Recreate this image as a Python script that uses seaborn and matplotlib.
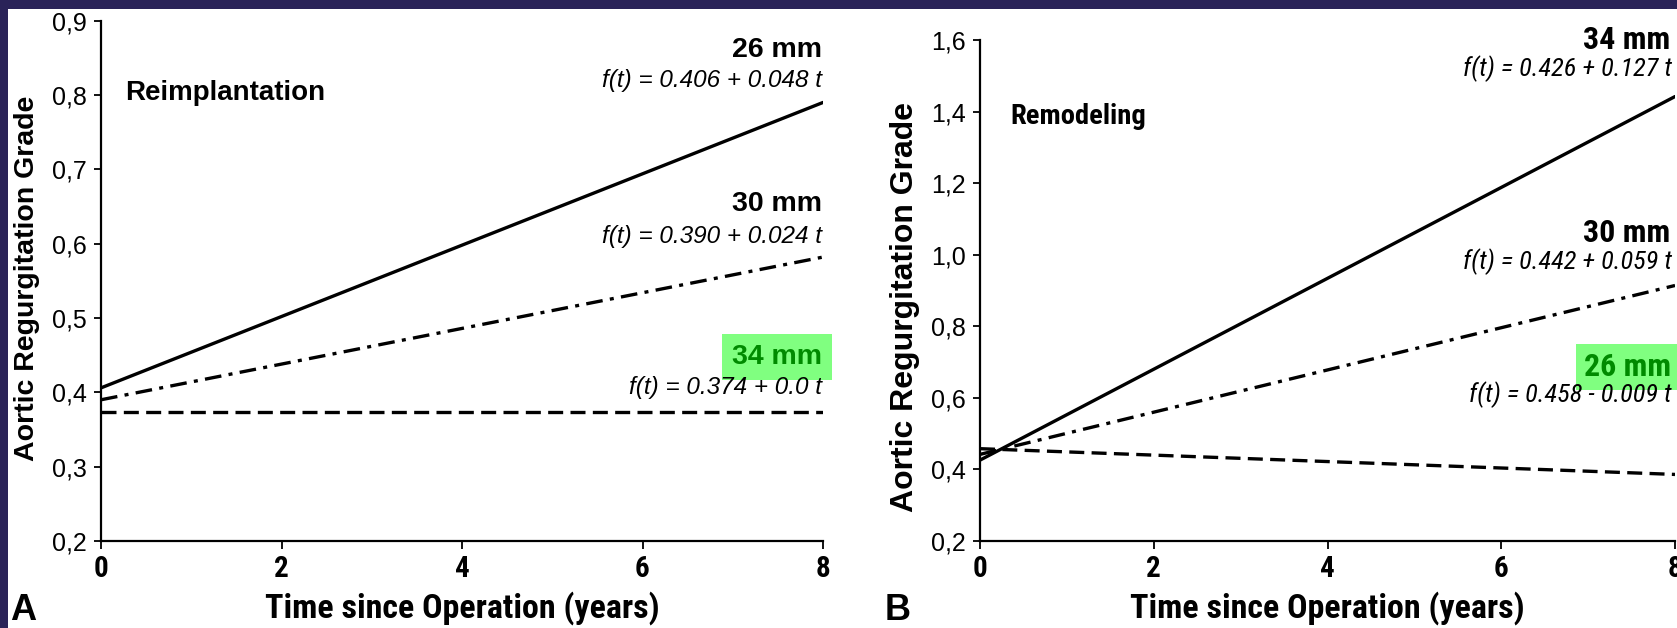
import matplotlib
matplotlib.use("Agg")
import matplotlib.pyplot as plt
from matplotlib import font_manager
import numpy as np
import pandas as pd
import seaborn as sns

# ---- data -------------------------------------------------------------
years = [0, 8]

reimpl_sizes = ["26 mm", "30 mm", "34 mm"]
reimpl_intercepts = [0.406, 0.390, 0.374]
reimpl_slopes = [0.048, 0.024, 0.0]
reimpl_formulas = ["f(t) = 0.406 + 0.048 t",
                   "f(t) = 0.390 + 0.024 t",
                   "f(t) = 0.374 + 0.0 t"]

remod_sizes = ["34 mm", "30 mm", "26 mm"]
remod_intercepts = [0.426, 0.442, 0.458]
remod_slopes = [0.127, 0.059, -0.009]
remod_formulas = ["f(t) = 0.426 + 0.127 t",
                  "f(t) = 0.442 + 0.059 t",
                  "f(t) = 0.458 - 0.009 t"]

reimpl_yticks = [0.2, 0.3, 0.4, 0.5, 0.6, 0.7, 0.8, 0.9]
remod_yticks = [0.2, 0.4, 0.6, 0.8, 1.0, 1.2, 1.4, 1.6]
xticks = [0, 2, 4, 6, 8]

# ---- style ------------------------------------------------------------
sns.set_theme(style="white")
installed = {f.name for f in font_manager.fontManager.ttflist}
REG = "Liberation Sans"
NARROW = next((n for n in ["Liberation Sans Narrow", "Arial Narrow", "Roboto Condensed"]
               if n in installed), REG)
plt.rcParams["font.family"] = [REG, "DejaVu Sans"]
plt.rcParams["text.color"] = "black"
plt.rcParams["axes.labelcolor"] = "black"
plt.rcParams["xtick.color"] = "black"
plt.rcParams["ytick.color"] = "black"

NAVY = "#2a2358"
HILITE = "#80ff80"
HILITE_TXT = "#008a00"

# line style per ring size: solid / dash-dot / dashed
size_dashes = {"26 mm": "", "30 mm": (5, 2.2, 1.2, 2.2), "34 mm": (4.5, 2.2)}
remod_dashes = {"34 mm": "", "30 mm": (5, 2.2, 1.2, 2.2), "26 mm": (4.5, 2.2)}


def fit_frame(sizes, a, b):
    rows = []
    for s, ai, bi in zip(sizes, a, b):
        for t in years:
            rows.append({"size": s, "t": t, "grade": ai + bi * t})
    return pd.DataFrame(rows)


W, H = 1677, 628
fig = plt.figure(figsize=(W / 100, H / 100), dpi=100, facecolor=NAVY)
# white page inside the navy frame
fig.patches.append(plt.Rectangle((8 / W, 0), 1, 1 - 9 / H, transform=fig.transFigure,
                                 facecolor="white", edgecolor="none", zorder=-10))

ax1 = fig.add_axes([101 / W, 1 - 541 / H, 722 / W, 520.3 / H])
ax2 = fig.add_axes([980 / W, 1 - 541 / H, 695 / W, 501 / H])


def style_axes(ax, yticks, tick_size, ylabel_size, ylab_x, ylab_y):
    ax.set_facecolor("none")
    for side in ["top", "right"]:
        ax.spines[side].set_visible(False)
    for side in ["left", "bottom"]:
        ax.spines[side].set_color("black")
        ax.spines[side].set_linewidth(1.6)
    ax.set_xlim(0, 8)
    ax.set_ylim(yticks[0], yticks[-1])
    ax.set_xticks(xticks)
    ax.set_xticklabels([str(v) for v in xticks], fontfamily=NARROW,
                       fontweight="bold", fontsize=21)
    ax.set_yticks(yticks)
    ax.set_yticklabels([f"{v:.1f}".replace(".", ",") for v in yticks],
                       fontsize=tick_size)
    ax.tick_params(axis="y", direction="out", length=5, width=1.3, color="black",
                   left=True, pad=5)
    ax.tick_params(axis="x", direction="out", length=6, width=1.3, color="black",
                   bottom=True, pad=4)
    ax.set_ylabel("Aortic Regurgitation Grade", fontweight="bold",
                  fontsize=ylabel_size, color="black")
    ax.yaxis.label.set_va("center")
    ax.yaxis.set_label_coords(ylab_x, ylab_y)
    ax.set_xlabel("Time since Operation (years)", fontfamily=NARROW,
                  fontweight="bold", fontsize=24.5, color="black")
    ax.xaxis.label.set_va("center")
    ax.xaxis.set_label_coords(0.5, -0.128)


# ---- panel A: reimplantation -----------------------------------------
df1 = fit_frame(reimpl_sizes, reimpl_intercepts, reimpl_slopes)
sns.lineplot(data=df1, x="t", y="grade", style="size", dashes=size_dashes,
             color="black", linewidth=2.4, legend=False, ax=ax1)
style_axes(ax1, reimpl_yticks, 18, 20.5, -0.103, 0.505)
ax1.xaxis.set_label_coords(0.5, -0.128)

ax1.text(0.27, 0.803, "Reimplantation", fontweight="bold", fontsize=20,
         ha="left", va="center")
label_y1 = [0.860, 0.654, 0.448]
formula_y1 = [0.820, 0.610, 0.407]
for s, f, ly, fy in zip(reimpl_sizes, reimpl_formulas, label_y1, formula_y1):
    if s == "34 mm":
        ax1.text(7.99, ly, s, fontweight="bold", fontsize=20.5, ha="right", va="center",
                 color=HILITE_TXT,
                 bbox=dict(boxstyle="square,pad=0.35", facecolor=HILITE, edgecolor="none"))
    else:
        ax1.text(7.99, ly, s, fontweight="bold", fontsize=20.5, ha="right", va="center")
    ax1.text(7.99, fy, f, fontstyle="italic", fontsize=17.5, ha="right", va="center")

fig.text(23 / W, 1 - 611 / H, "A", fontweight="bold", fontsize=26,
         ha="center", va="center")

# ---- panel B: remodeling ---------------------------------------------
df2 = fit_frame(remod_sizes, remod_intercepts, remod_slopes)
sns.lineplot(data=df2, x="t", y="grade", style="size", dashes=remod_dashes,
             color="black", linewidth=2.4, legend=False, ax=ax2)
style_axes(ax2, remod_yticks, 18, 23, -0.108, 0.467)
ax2.xaxis.set_label_coords(0.5, -0.133)

ax2.text(0.35, 1.386, "Remodeling", fontfamily=NARROW, fontweight="bold",
         fontsize=20.5, ha="left", va="center")
label_y2 = [1.600, 1.061, 0.687]
formula_y2 = [1.521, 0.980, 0.608]
for s, f, ly, fy in zip(remod_sizes, remod_formulas, label_y2, formula_y2):
    if s == "26 mm":
        ax2.text(7.95, ly, s, fontfamily=NARROW, fontweight="bold", fontsize=23,
                 ha="right", va="center", color=HILITE_TXT,
                 bbox=dict(boxstyle="square,pad=0.25", facecolor=HILITE, edgecolor="none"))
    else:
        ax2.text(7.95, ly, s, fontfamily=NARROW, fontweight="bold", fontsize=23,
                 ha="right", va="center")
    ax2.text(7.96, fy, f, fontfamily=NARROW, fontstyle="italic", fontsize=19,
             ha="right", va="center")

fig.text(898 / W, 1 - 611 / H, "B", fontweight="bold", fontsize=26,
         ha="center", va="center")

fig.savefig("out.png", dpi=100, facecolor=NAVY)
